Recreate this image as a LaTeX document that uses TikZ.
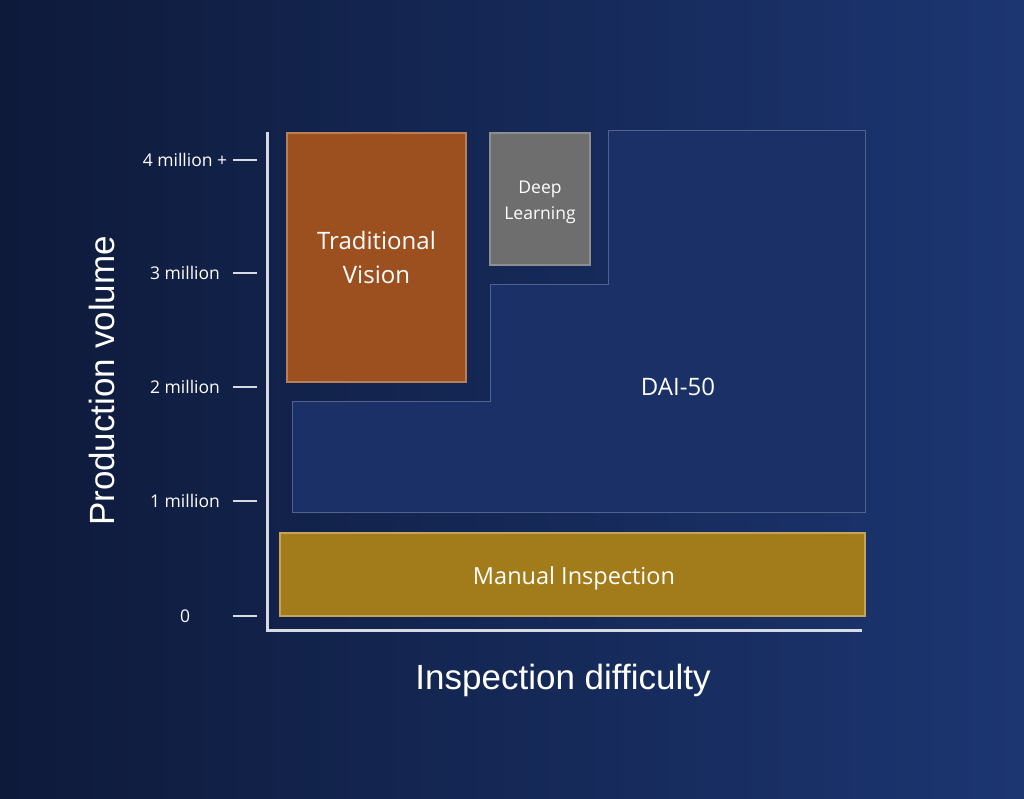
\documentclass[tikz,border=0pt]{standalone}
\usepackage{fontspec}
\setmainfont{Open Sans}
\newfontfamily\titlefont{Liberation Sans}
\usepackage{tikz}
\usetikzlibrary{calc}

\definecolor{bgdark}{HTML}{0E1A3A}
\definecolor{bglight}{HTML}{1C3672}
\definecolor{axisgray}{HTML}{D6DAE3}
\definecolor{tradfill}{HTML}{9C5020}
\definecolor{tradline}{HTML}{B98058}
\definecolor{deepfill}{HTML}{6E6E6E}
\definecolor{deepline}{HTML}{8E8E8E}
\definecolor{daifill}{HTML}{1A3066}
\definecolor{dailine}{HTML}{4F6290}
\definecolor{manfill}{HTML}{A27B1A}
\definecolor{manline}{HTML}{C4A45A}

\tikzset{
  box/.style={rectangle, inner sep=0pt, line width=1.5pt, text=white, align=center},
  ticklabel/.style={text=white, font=\fontsize{17.5}{20}\selectfont},
  tickmark/.style={axisgray, line width=1.4pt},
}

\begin{document}
\begin{tikzpicture}[x=1pt, y=-1pt]
			%%%%% START %%%%%
			
			\useasboundingbox (0, 0) rectangle (1024, 798);
			\shade[shading angle=115, left color=bgdark, right color=bglight] (0, 0) rectangle (1024, 798);
			
			% regions
			\draw[fill=daifill, draw=dailine, line width=1pt] (608, 130) -- (865, 130) -- (865, 512) -- (292, 512) -- (292, 401) -- (490, 401) -- (490, 284) -- (608, 284) -- cycle;
			\node[text=white, font=\fontsize{24}{28}\selectfont] (dai) at (678, 387) {DAI-50};
			
			\node[box, fill=tradfill, draw=tradline, minimum width=179pt, minimum height=249pt, font=\fontsize{24}{34}\selectfont] (trad) at (376.5, 257.5) {Traditional\\Vision};
			\node[box, fill=deepfill, draw=deepline, minimum width=100pt, minimum height=132pt] (deep) at (540, 199) {};
			\node[text=white, align=center, font=\fontsize{17.5}{26}\selectfont] (deeplabel) at (540, 202) {Deep\\Learning};
			\node[box, fill=manfill, draw=manline, minimum width=585pt, minimum height=83pt] (manual) at (572.5, 574.5) {};
			\node[text=white, font=\fontsize{23.5}{28}\selectfont] (manlabel) at (574, 578) {Manual Inspection};
			
			% axes
			\coordinate (ytop) at (267, 132);
			\coordinate (origin) at (267, 630);
			\coordinate (xend) at (862, 630);
			\draw[axisgray, line width=3pt] (ytop) -- (origin) -- (xend);
			
			% ticks
			\foreach \yy/\lab [count=\i] in {160/4 million +, 273/3 million, 387/2 million, 501/1 million, 616/0} {
				\draw[tickmark] (233, \yy) -- (257, \yy);
				\node[ticklabel] (tick\i) at (185, \yy) {\lab};
			}
			
			\node[text=white, rotate=90, font=\titlefont\fontsize{35}{40}\selectfont] (ylabel) at (102, 381) {Production volume};
			\node[text=white, font=\titlefont\fontsize{35}{40}\selectfont] (xlabel) at (563, 680) {Inspection difficulty};
			
			%%%%% END %%%%%
		\end{tikzpicture}
\end{document}
